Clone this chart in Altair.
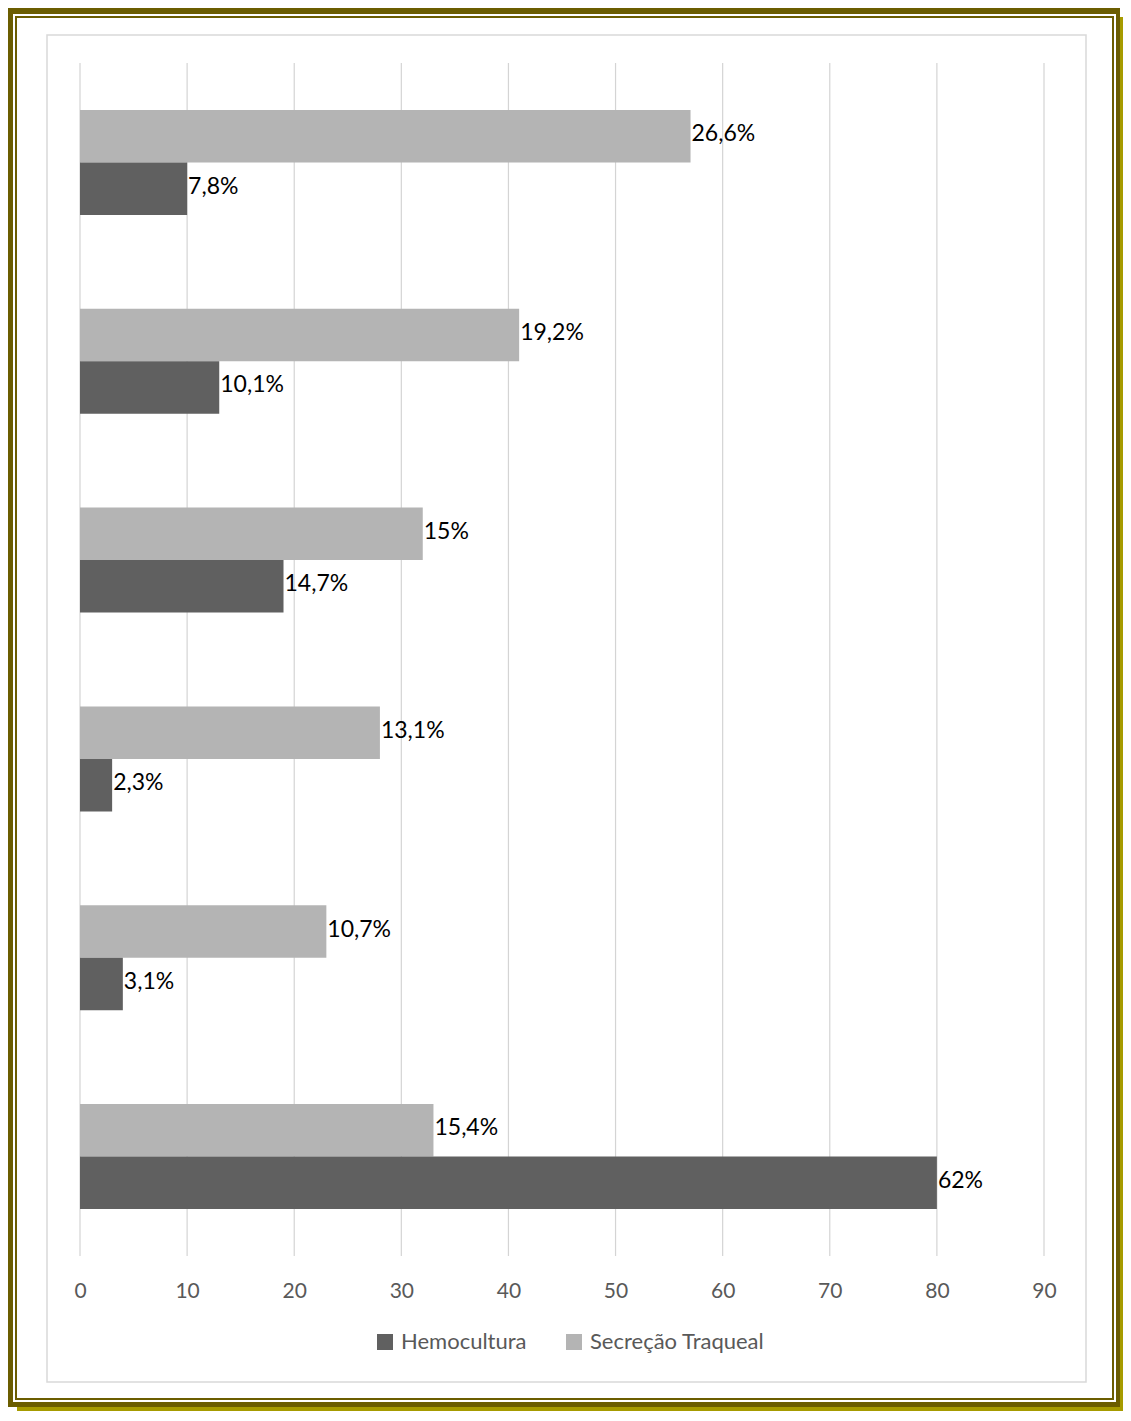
import altair as alt
import pandas as pd

categories = ["C1", "C2", "C3", "C4", "C5", "C6"]
series = ["Hemocultura", "Secreção Traqueal"]
hemo_values = [10, 13, 19, 3, 4, 80]
secr_values = [57, 41, 32, 28, 23, 33]
hemo_labels = ["7,8%", "10,1%", "14,7%", "2,3%", "3,1%", "62%"]
secr_labels = ["26,6%", "19,2%", "15%", "13,1%", "10,7%", "15,4%"]
x_ticks = [0, 10, 20, 30, 40, 50, 60, 70, 80, 90]

rows = []
for i, c in enumerate(categories):
    rows.append({"cat": c, "serie": series[1], "value": secr_values[i], "label": secr_labels[i]})
    rows.append({"cat": c, "serie": series[0], "value": hemo_values[i], "label": hemo_labels[i]})
df = pd.DataFrame(rows)

W, H = 964, 1193
FONT = "Lato"
OLIVE = "#6b5d00"
YELLOW = "#a69b00"

xscale = alt.Scale(domain=[0, 90], nice=False, zero=True)
yscale = alt.Scale(domain=categories, paddingInner=0.472, paddingOuter=0.236)
yoff = alt.YOffset("serie:N", sort=[series[1], series[0]], scale=alt.Scale(paddingInner=0, paddingOuter=0))

xaxis = alt.Axis(
    values=x_ticks, grid=False, domain=False, ticks=False, tickSize=0,
    labelPadding=24, labelFont=FONT, labelFontSize=21, labelColor="#595959",
    labelFlush=False, labelOverlap=False, zindex=1, title=None,
)

one = pd.DataFrame({"k": [0]})

def frame_rect(x1, y1, x2, y2, fill, stroke=None, sw=0):
    kw = dict(fill=fill)
    if stroke:
        kw.update(stroke=stroke, strokeWidth=sw)
    return alt.Chart(one).mark_rect(**kw).encode(
        x=alt.value(x1), x2=alt.value(x2), y=alt.value(y1), y2=alt.value(y2)
    )

frame = [
    frame_rect(-63, -46, 1043, 1348, YELLOW),
    frame_rect(-72, -55, 1040, 1344, OLIVE),
    frame_rect(-67, -49, 1036, 1339, "white"),
    frame_rect(-65, -47, 1034, 1337, OLIVE),
    frame_rect(-63, -45, 1032, 1335, "white"),
    frame_rect(-33, -28, 1006, 1319, "white", "#d9d9d9", 1.5),
]

grid = alt.Chart(pd.DataFrame({"value": x_ticks})).mark_rule(color="#d4d4d4", strokeWidth=1.2).encode(
    x=alt.X("value:Q", scale=xscale, axis=xaxis),
    y=alt.value(0),
    y2=alt.value(H),
)

bars = alt.Chart(df).mark_bar().encode(
    x=alt.X("value:Q", scale=xscale, axis=xaxis),
    y=alt.Y("cat:N", scale=yscale, axis=None, sort=categories),
    yOffset=yoff,
    color=alt.Color(
        "serie:N",
        scale=alt.Scale(domain=series, range=["#606060", "#b4b4b4"]),
        legend=alt.Legend(
            title=None, orient="none", direction="horizontal", legendX=294, legendY=1268,
            symbolType="square", symbolSize=256, symbolStrokeWidth=0, symbolOffset=0,
            labelFont=FONT, labelFontSize=22, labelColor="#595959", columnPadding=36,
            labelOffset=5, labelLimit=0,
        ),
    ),
)

text = alt.Chart(df).mark_text(
    align="left", baseline="middle", dx=1, dy=-2, font=FONT, fontSize=23, color="#000000"
).encode(
    x=alt.X("value:Q", scale=xscale, axis=xaxis),
    y=alt.Y("cat:N", scale=yscale, sort=categories, axis=None),
    yOffset=yoff,
    text="label:N",
)

chart = alt.layer(*frame, grid, bars, text).properties(
    width=W, height=H,
    padding={"left": 72, "top": 55, "right": 79, "bottom": 155},
    autosize=alt.AutoSizeParams(type="none"),
).configure_view(stroke=None).configure(background="white")

chart.save("out.html", embed_options={"renderer": "svg", "actions": False})
